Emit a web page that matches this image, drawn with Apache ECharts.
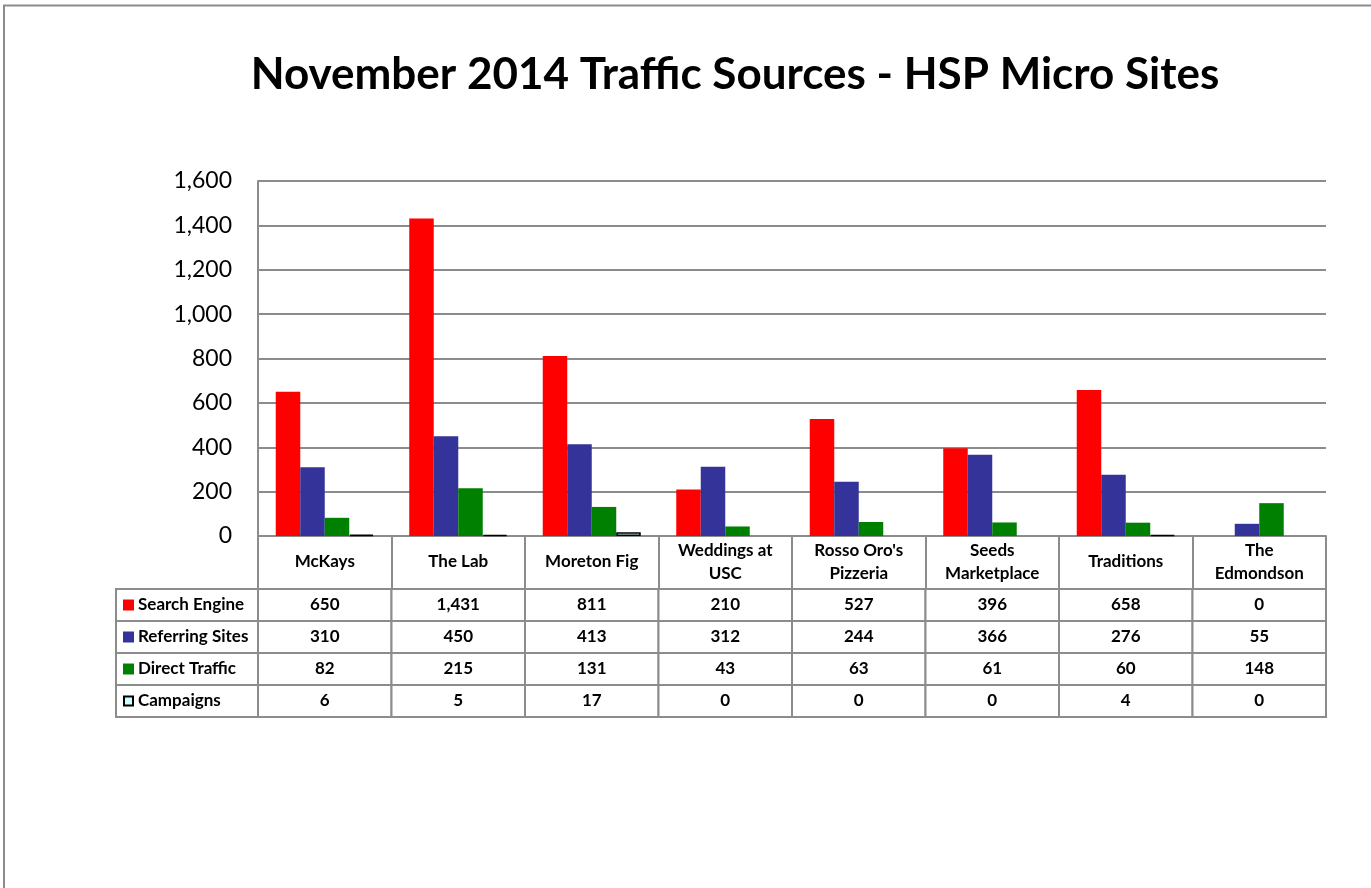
<!DOCTYPE html>
<html>
<head>
<meta charset="utf-8">
<script src="https://cdn.jsdelivr.net/npm/echarts@6/dist/echarts.min.js"></script>
<style>
html,body{margin:0;padding:0;background:#fff;}
#chart{width:1371px;height:888px;}
</style>
</head>
<body>
<div id="chart"></div>
<script>
// ---- data ----
const categories = ['McKays', 'The Lab', 'Moreton Fig', 'Weddings at\nUSC', "Rosso Oro's\nPizzeria", 'Seeds\nMarketplace', 'Traditions', 'The\nEdmondson'];
const seriesNames = ['Search Engine', 'Referring Sites', 'Direct Traffic', 'Campaigns'];
const searchEngine = [650, 1431, 811, 210, 527, 396, 658, 0];
const referringSites = [310, 450, 413, 312, 244, 366, 276, 55];
const directTraffic = [82, 215, 131, 43, 63, 61, 60, 148];
const campaigns = [6, 5, 17, 0, 0, 0, 4, 0];
const yTicks = [0, 200, 400, 600, 800, 1000, 1200, 1400, 1600];

// ---- styles ----
const colors = ['#FF0000', '#333399', '#008000', '#CCFFFF'];
const borders = [null, null, null, '#000000'];
const FONT = 'Lato, "Liberation Sans", sans-serif';
const GRAY = '#8c8c8c';
const fmt = v => Number(v).toLocaleString('en-US');

const allSeries = [searchEngine, referringSites, directTraffic, campaigns];

const barSeries = allSeries.map((vals, i) => ({
  name: seriesNames[i],
  type: 'bar',
  xAxisIndex: 0,
  yAxisIndex: 0,
  barWidth: 24.5,
  barGap: '0%',
  itemStyle: {
    color: colors[i],
    borderColor: borders[i] || colors[i],
    borderWidth: borders[i] ? 1.6 : 0
  },
  data: vals.map(v => (borders[i] && v === 0) ? { value: v, itemStyle: { borderWidth: 0 } } : v),
  silent: true
}));

const tableData = [];
allSeries.forEach((vals, r) => vals.forEach((v, c) => tableData.push([c, r, v])));
const labelData = seriesNames.map((n, r) => [0, r]);

const chart = echarts.init(document.getElementById('chart'), null, { renderer: 'canvas' });
chart.setOption({
  animation: false,
  backgroundColor: '#ffffff',
  title: {
    text: 'November 2014 Traffic Sources - HSP Micro Sites',
    left: 730, top: 48, textAlign: 'center',
    textStyle: { fontFamily: FONT, fontWeight: 'bold', fontSize: 44, color: '#000' }
  },
  graphic: [{
    type: 'rect', silent: true,
    shape: { x: 4, y: 5.5, width: 1420, height: 940 },
    style: { fill: 'none', stroke: GRAY, lineWidth: 2 }
  }],
  grid: [
    { left: 258, top: 181, width: 1068, height: 355, containLabel: false },
    { left: 258, top: 589, width: 1068, height: 128, containLabel: false },
    { left: 116, top: 589, width: 142, height: 128, containLabel: false }
  ],
  xAxis: [
    {
      type: 'category', gridIndex: 0, data: categories, boundaryGap: true,
      axisLine: { show: true, lineStyle: { color: GRAY, width: 2 } },
      axisTick: { show: true, interval: 0, length: 54, alignWithLabel: false, lineStyle: { color: GRAY, width: 2 } },
      axisLabel: {
        interval: 0, margin: 26, verticalAlign: 'middle',
        fontFamily: FONT, fontWeight: 'bold', fontSize: 17, lineHeight: 23, color: '#000'
      }
    },
    { type: 'category', gridIndex: 1, data: categories, show: false },
    { type: 'category', gridIndex: 2, data: ['label'], show: false }
  ],
  yAxis: [
    {
      type: 'value', gridIndex: 0, min: yTicks[0], max: yTicks[yTicks.length - 1], interval: 200,
      axisLine: { show: true, lineStyle: { color: GRAY, width: 2 } },
      axisTick: { show: false },
      splitLine: { show: true, lineStyle: { color: GRAY, width: 2 } },
      axisLabel: { formatter: v => fmt(v), margin: 26, fontFamily: FONT, fontSize: 23, color: '#000' }
    },
    { type: 'category', gridIndex: 1, data: seriesNames, inverse: true, show: false },
    { type: 'category', gridIndex: 2, data: seriesNames, inverse: true, show: false }
  ],
  series: barSeries.concat([
    {
      type: 'custom', xAxisIndex: 1, yAxisIndex: 1, silent: true,
      data: tableData,
      renderItem: (params, api) => {
        const c = api.coord([api.value(0), api.value(1)]);
        const s = api.size([1, 1]);
        return {
          type: 'group',
          children: [
            { type: 'rect', shape: { x: c[0] - s[0] / 2, y: c[1] - s[1] / 2, width: s[0], height: s[1] },
              style: { fill: '#fff', stroke: GRAY, lineWidth: 2 } },
            { type: 'text', style: { text: fmt(api.value(2)), x: c[0], y: c[1], align: 'center', verticalAlign: 'middle',
              font: 'bold 17px ' + FONT, fill: '#000' } }
          ]
        };
      }
    },
    {
      type: 'custom', xAxisIndex: 2, yAxisIndex: 2, silent: true,
      data: labelData,
      renderItem: (params, api) => {
        const r = api.value(1);
        const c = api.coord([api.value(0), r]);
        const s = api.size([1, 1]);
        const x0 = c[0] - s[0] / 2;
        const isOutline = !!borders[r];
        return {
          type: 'group',
          children: [
            { type: 'rect', shape: { x: x0, y: c[1] - s[1] / 2, width: s[0], height: s[1] },
              style: { fill: '#fff', stroke: GRAY, lineWidth: 2 } },
            { type: 'rect', shape: { x: x0 + 7 + (isOutline ? 1 : 0), y: c[1] - 5.5 + (isOutline ? 1 : 0), width: isOutline ? 9 : 11, height: isOutline ? 9 : 11 },
              style: { fill: colors[r], stroke: isOutline ? borders[r] : null, lineWidth: isOutline ? 2 : 0 } },
            { type: 'text', style: { text: seriesNames[r], x: x0 + 22, y: c[1], align: 'left', verticalAlign: 'middle',
              font: 'bold 17px ' + FONT, fill: '#000' } }
          ]
        };
      }
    }
  ])
});
</script>
</body>
</html>
